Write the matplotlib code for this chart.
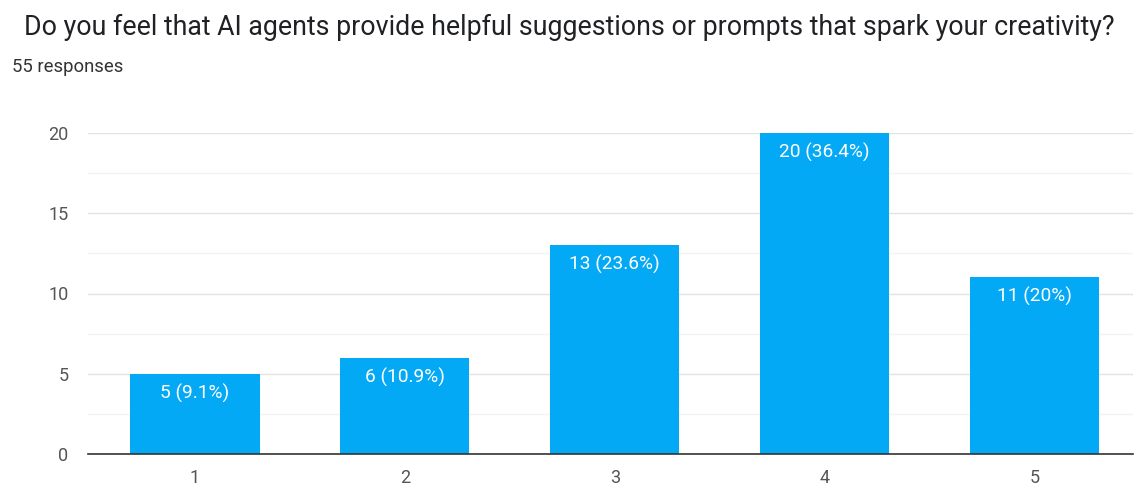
import matplotlib
matplotlib.use("Agg")
import matplotlib.pyplot as plt
from matplotlib.ticker import MultipleLocator

categories = ["1", "2", "3", "4", "5"]
counts = [5, 6, 13, 20, 11]
percent_labels = ["9.1%", "10.9%", "23.6%", "36.4%", "20%"]
yticks = [0, 5, 10, 15, 20]

title = "Do you feel that AI agents provide helpful suggestions or prompts that spark your creativity?"
subtitle = "55 responses"

plt.rcParams['font.family'] = ['Roboto', 'DejaVu Sans']

W, H = 1139, 493
fig = plt.figure(figsize=(W / 100, H / 100), dpi=100)
fig.patch.set_facecolor("white")

ax = fig.add_axes([88 / W, 1 - 454 / H, (1133 - 88) / W, (454 - 133) / H])
x = list(range(1, len(categories) + 1))
bars = ax.bar(x, counts, width=0.615, color="#03a9f4", zorder=3)

ax.set_xlim(0.49, 5.47)
ax.set_ylim(0, 20)
ax.set_yticks(yticks)
ax.yaxis.set_minor_locator(MultipleLocator(2.5))
ax.set_xticks(x)
ax.set_xticklabels(categories)

ax.grid(axis="y", which="major", color="#e3e3e3", linewidth=1.0, zorder=0)
ax.grid(axis="y", which="minor", color="#f3f3f3", linewidth=1.0, zorder=0)
for s in ["top", "right", "left"]:
    ax.spines[s].set_visible(False)
ax.spines["bottom"].set_color("#333333")
ax.spines["bottom"].set_linewidth(1.2)
ax.spines["bottom"].set_zorder(4)
ax.tick_params(axis="both", which="both", length=0, labelsize=13, labelcolor="#555555")
ax.tick_params(axis="y", pad=14)
ax.tick_params(axis="x", pad=11)

for b, c, p in zip(bars, counts, percent_labels):
    ax.annotate(f"{c} ({p})", xy=(b.get_x() + b.get_width() / 2, b.get_height()),
                xytext=(0, -7), textcoords="offset points", ha="center", va="top",
                color="white", fontsize=13.8, zorder=5)

fig.text(24 / W, 1 - 35 / H, title, ha="left", va="baseline", fontsize=19.3, color="#202124")
fig.text(12 / W, 1 - 72 / H, subtitle, ha="left", va="baseline", fontsize=13.3, color="#333333")

fig.savefig("out.png", dpi=100, facecolor="white")
